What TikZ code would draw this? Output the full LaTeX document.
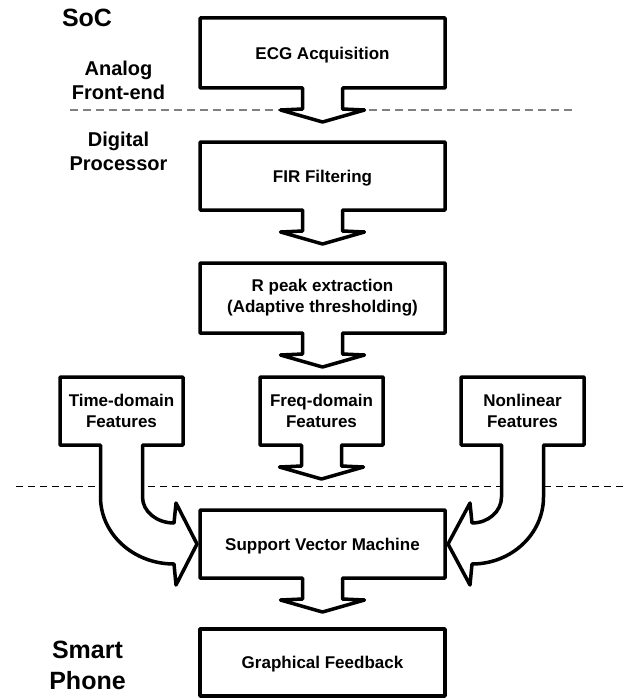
\documentclass[tikz,border=0pt]{standalone}
\usepackage{fontspec}
\setmainfont{Liberation Sans}
\usetikzlibrary{calc}
\pgfdeclarelayer{bg}
\pgfdeclarelayer{mid}
\pgfsetlayers{bg,mid,main}
\tikzset{
  outl/.style={line width=3.5pt, line join=round, draw=black, fill=white},
  boxn/.style={inner sep=0pt, outer sep=0pt, align=center, font=\bfseries\fontsize{17}{21}\selectfont},
  mainbox/.style={boxn, minimum width=245pt},
  onerow/.style={text depth=0pt},
  featbox/.style={boxn, minimum width=123pt, minimum height=68pt},
  lab/.style={inner sep=0pt, align=center, font=\bfseries\fontsize{20}{24}\selectfont},
  biglab/.style={inner sep=0pt, align=center, font=\bfseries\fontsize{25}{31}\selectfont},
  graydash/.style={draw=black!50, line width=2pt, dash pattern=on 8pt off 5pt},
  blackdash/.style={draw=black, line width=1pt, dash pattern=on 7pt off 5pt}
}
\newcommand\blockarrow[1]{%
  \draw[outl] (#1.north west) -- (#1.north east) -- (#1.south east)
    -- ($(#1.south)+(20,0)$) -- ($(#1.south)+(20,21)$) -- ($(#1.south)+(42,22)$)
    -- ($(#1.south)+(0,34)$) -- ($(#1.south)+(-42,22)$) -- ($(#1.south)+(-20,21)$)
    -- ($(#1.south)+(-20,0)$) -- (#1.south west) -- cycle;}
\begin{document}
\begin{tikzpicture}[x=1pt,y=-1pt]
\useasboundingbox (0,0) rectangle (628,698);

% labels
\node[biglab] (soc) at (87,18) {SoC};
\node[lab] (afe) at (118.5,80) {Analog\\Front-end};
\node[lab] (dp) at (118.5,151) {Digital\\Processor};
\node[biglab] (sp) at (87.5,665) {Smart\\Phone};

% boxes (text)
\node[mainbox, onerow, minimum height=70pt] (ecg) at (322.5,53) {ECG Acquisition};
\node[mainbox, onerow, minimum height=68pt] (fir) at (322.5,176) {FIR Filtering};
\node[mainbox, minimum height=70pt] (rpk) at (322.5,298) {R peak extraction\\(Adaptive thresholding)};
\node[featbox] (time) at (121.5,411) {Time-domain\\Features};
\node[featbox] (freq) at (321.5,411) {Freq-domain\\Features};
\node[featbox] (nl) at (522.5,411) {Nonlinear\\Features};
\node[mainbox, onerow, minimum height=68pt] (svm) at (322.5,544) {Support Vector Machine};
\node[mainbox, onerow, minimum height=67pt] (gf) at (322.5,662.5) {Graphical Feedback};

% dashed separators
\coordinate (d1a) at (70,110);
\coordinate (d1b) at (572,110);
\coordinate (d2a) at (16,486);
\coordinate (d2b) at (628,486);
\begin{pgfonlayer}{bg}
  \draw[graydash] (d1a) -- (d1b);
  \draw[blackdash] (d2a) -- (d2b);
\end{pgfonlayer}

\begin{pgfonlayer}{mid}
  \blockarrow{ecg}
  \blockarrow{fir}
  \blockarrow{rpk}
  \blockarrow{freq}
  \blockarrow{svm}
  \draw[outl] (gf.north west) rectangle (gf.south east);
  % time-domain curved arrow
  \draw[outl] ($(time.south)+(21,0)$) -- (time.south east) -- (time.north east)
    -- (time.north west) -- (time.south west) -- ($(time.south)+(-21,0)$)
    -- ++(0,52) .. controls +(0,37) and +(-40.6,0) .. ($(svm.west)+(-26,20)$)
    -- ($(svm.west)+(-24,41)$) -- ($(svm.west)+(-3,0)$) -- ($(svm.west)+(-24,-41)$)
    -- ($(svm.west)+(-26,-21)$) .. controls +(-17.4,0) and +(0,14.4) .. ($(time.south)+(21,52)$)
    -- cycle;
  % nonlinear curved arrow
  \draw[outl] ($(nl.south)+(-21,0)$) -- (nl.south west) -- (nl.north west)
    -- (nl.north east) -- (nl.south east) -- ($(nl.south)+(21,0)$)
    -- ++(0,52) .. controls +(0,37) and +(39.5,0) .. ($(svm.east)+(27,20)$)
    -- ($(svm.east)+(25,41)$) -- ($(svm.east)+(3,0)$) -- ($(svm.east)+(25,-41)$)
    -- ($(svm.east)+(27,-21)$) .. controls +(16.3,0) and +(0,14.4) .. ($(nl.south)+(-21,52)$)
    -- cycle;
\end{pgfonlayer}
\end{tikzpicture}
\end{document}
